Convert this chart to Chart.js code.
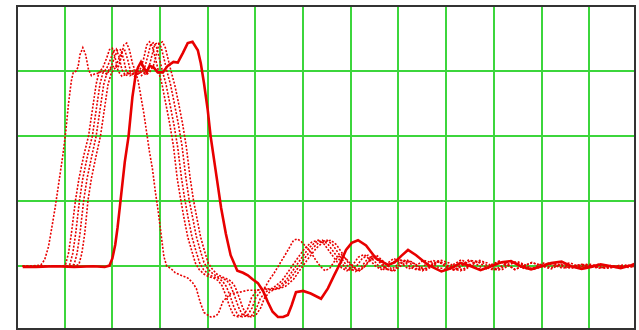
<!DOCTYPE html>
<html>
<head>
<meta charset="utf-8">
<script src="https://cdn.jsdelivr.net/npm/chart.js@4/dist/chart.umd.min.js"></script>
<style>
html,body{margin:0;padding:0;background:#fff;}
#wrap{width:639px;height:330px;}
</style>
</head>
<body>
<div id="wrap"><canvas id="c" width="639" height="330"></canvas></div>
<script>
// Time axis (ns, 50 per division) and voltage axis (V, 1 per division)
const xGridTicks = [50,100,150,200,250,300,350,400,450,500,550,600];
const yGridTicks = [1,2,3,4];

// Earliest dotted trace
const traceA = [[6,1.0],[14,1.0],[20,1.01],[25,1.02],[29,1.1],[33,1.3],[36,1.55],[40,1.9],[44,2.3],[48,2.7],[51,3.05],[54,3.5],[57,3.85],[59,3.98],[62,4.0],[64,4.06],[66,4.25],[69,4.36],[72,4.25],[75,4.02],[78,3.93],[82,3.96],[86,3.97],[90,4.01],[94,3.95],[98,4.03],[102,4.08],[106,4.05],[109,4.2],[112,4.4],[115,4.43],[118,4.32],[121,4.12],[124,4.0],[127,3.85],[130,3.6],[133,3.35],[136,3.05],[139,2.75],[142,2.5],[145,2.15],[148,1.85],[151,1.5],[154,1.15],[157,1.0],[161,0.97],[166,0.9],[172,0.86],[179,0.82],[184,0.75],[188,0.66],[192,0.45],[196,0.29],[203,0.22],[208,0.23],[211,0.27],[216,0.46],[224,0.58],[233,0.6],[242,0.63],[250,0.63],[259,0.65],[265,0.8],[269,0.88],[276,1.05],[283,1.22],[290,1.4],[294,1.42],[298,1.38],[303,1.3],[308,1.22],[313,1.1],[318,1.0],[323,0.93],[328,0.97],[334,1.1],[340,1.18],[346,1.1],[352,1.0],[358,0.92],[364,0.99],[370,1.1],[376,1.15],[382,1.06],[388,0.96],[395,0.92],[402,1.0],[410,1.08],[418,1.03],[426,0.95],[434,1.01],[442,1.08],[450,1.0],[458,0.94],[466,1.02],[474,1.1],[482,1.03],[490,0.95],[498,1.0],[506,1.08],[514,1.03],[522,0.95],[530,1.0],[540,1.06],[550,1.0],[560,0.96],[570,1.03],[580,1.05],[590,0.99],[600,1.0],[610,1.02],[620,0.99],[630,1.0],[640,1.01],[648,1.03]];

const traceB = [[6,1.0],[30,1.0],[48,1.0],[51,1.03],[54,1.2],[57,1.5],[61.4,2.02],[65,2.35],[70,2.7],[75,3.0],[79,3.4],[83,3.8],[86,3.98],[90,4.05],[94,4.2],[97,4.33],[100,4.35],[103,4.2],[106,4.0],[110,3.92],[114,3.95],[118,4.0],[122,3.94],[126,3.97],[130,4.05],[133,4.2],[136,4.4],[139,4.45],[142,4.38],[145,4.2],[148,4.02],[152,3.8],[156,3.5],[160,3.2],[164,2.85],[168,2.35],[171.7,2.02],[175,1.75],[179,1.45],[183,1.25],[187,1.05],[191,0.95],[196,0.88],[201,0.84],[206,0.82],[211,0.78],[215,0.7],[219,0.55],[223,0.38],[227,0.25],[232,0.22],[237,0.24],[242,0.35],[246,0.52],[251,0.62],[256,0.66],[262,0.65],[268,0.66],[278,0.78],[286,0.95],[294,1.12],[302,1.28],[309,1.37],[316,1.4],[322,1.34],[328,1.22],[334,1.1],[340,0.98],[346,0.93],[352,1.02],[358,1.14],[364,1.18],[370,1.1],[376,1.0],[382,0.95],[388,1.04],[395,1.12],[402,1.06],[410,0.96],[418,1.0],[426,1.09],[434,1.06],[442,0.98],[450,0.95],[458,1.03],[466,1.1],[474,1.03],[482,0.97],[490,0.95],[498,1.03],[506,1.08],[514,1.02],[522,0.95],[530,1.0],[540,1.05],[550,1.02],[560,0.98],[570,1.02],[580,1.0],[590,0.97],[600,1.0],[610,1.03],[620,1.0],[630,0.98],[640,1.0],[648,1.02]];

const traceC = [[6,1.0],[30,1.0],[52,1.0],[55.5,1.03],[58.5,1.2],[61.5,1.5],[65.6,2.02],[69,2.35],[74,2.7],[79,3.0],[83,3.4],[87,3.8],[90,3.97],[94,4.04],[98,4.18],[101,4.3],[104,4.34],[107,4.22],[110,4.02],[114,3.93],[118,3.96],[122,4.01],[126,3.95],[130,3.98],[134,4.06],[137,4.22],[140,4.4],[143.5,4.44],[146.5,4.36],[149.5,4.18],[152.5,4.0],[156.5,3.78],[160.5,3.48],[164.5,3.18],[168.5,2.83],[172.5,2.35],[176,2.02],[179.5,1.74],[183.5,1.45],[187.5,1.24],[191.5,1.05],[195.5,0.95],[200.5,0.88],[205.5,0.84],[210.5,0.82],[215.5,0.77],[219.5,0.69],[223.5,0.54],[227.5,0.37],[231.5,0.25],[236.5,0.22],[241.5,0.24],[246.5,0.36],[250.5,0.52],[255.5,0.61],[260.5,0.65],[266.5,0.64],[272.5,0.67],[282,0.78],[290,0.95],[298,1.12],[306,1.28],[313,1.37],[320,1.4],[326,1.34],[332,1.22],[338,1.1],[344,0.98],[350,0.93],[356,1.0],[362,1.12],[368,1.17],[374,1.09],[380,0.99],[386,0.94],[392,1.03],[399,1.11],[406,1.07],[413,0.98],[420,0.94],[428,1.02],[436,1.09],[444,1.05],[452,0.97],[460,0.94],[468,1.02],[476,1.09],[484,1.06],[492,0.98],[500,0.94],[508,1.0],[516,1.08],[524,1.04],[532,0.96],[542,0.98],[552,1.05],[562,1.02],[572,0.97],[582,1.0],[592,1.03],[602,0.99],[612,0.97],[622,1.01],[632,1.0],[642,0.98],[648,1.0]];

const traceD = [[6,1.0],[30,1.0],[56,1.0],[60,1.03],[63,1.2],[66,1.5],[70,2.02],[73.5,2.35],[78.5,2.7],[83,3.0],[87,3.4],[91,3.8],[94.5,3.98],[98.5,4.06],[102.5,4.22],[105.5,4.32],[108.5,4.33],[111.5,4.2],[114.5,4.0],[118.5,3.93],[122.5,3.97],[126.5,4.0],[130.5,3.93],[134.5,3.99],[138.5,4.07],[141.5,4.24],[144.5,4.41],[148,4.44],[151,4.37],[154,4.2],[157,4.01],[161,3.79],[165,3.5],[169,3.2],[173,2.85],[177,2.37],[180.5,2.02],[184,1.76],[188,1.46],[192,1.25],[196,1.06],[200,0.96],[205,0.89],[210,0.84],[215,0.82],[220,0.78],[224,0.7],[228,0.55],[232,0.38],[236,0.26],[241,0.22],[246,0.24],[251,0.35],[255,0.5],[260,0.6],[265,0.64],[271,0.65],[277,0.68],[286,0.8],[294,0.96],[302,1.13],[310,1.28],[317,1.37],[325,1.4],[331,1.33],[337,1.2],[343,1.06],[349,0.97],[355,0.92],[361,0.99],[367,1.1],[373,1.16],[379,1.08],[385,0.98],[391,0.93],[397,1.0],[404,1.1],[411,1.06],[418,0.97],[425,0.93],[433,1.0],[441,1.08],[449,1.04],[457,0.96],[465,0.93],[473,1.0],[481,1.08],[489,1.05],[497,0.97],[505,0.94],[513,1.02],[521,1.07],[529,1.03],[537,0.96],[547,0.98],[557,1.05],[567,1.02],[577,0.97],[587,1.01],[597,1.03],[607,0.99],[617,0.97],[627,1.0],[637,1.02],[648,0.99]];

const traceE = [[6,1.0],[30,1.0],[61,1.0],[65,1.03],[68,1.2],[71,1.5],[74.5,2.02],[78,2.35],[83,2.7],[87.5,3.0],[91.5,3.4],[95.5,3.8],[99,3.97],[103,4.05],[107,4.2],[110,4.3],[113,4.32],[116,4.18],[119,4.0],[123,3.92],[127,3.96],[131,4.02],[135,3.94],[139,3.98],[143,4.08],[146,4.25],[149,4.42],[152.5,4.45],[155.5,4.36],[158.5,4.18],[161.5,4.0],[165.5,3.78],[169.5,3.5],[173.5,3.2],[177.5,2.84],[181.5,2.36],[185,2.02],[188.5,1.75],[192.5,1.45],[196.5,1.24],[200.5,1.05],[204.5,0.96],[209.5,0.88],[214.5,0.84],[219.5,0.81],[224.5,0.77],[228.5,0.69],[232.5,0.54],[236.5,0.37],[240.5,0.25],[245.5,0.22],[250.5,0.25],[255.5,0.36],[259.5,0.51],[264.5,0.6],[269.5,0.64],[275.5,0.66],[281.5,0.69],[290,0.8],[298,0.97],[306,1.13],[314,1.28],[321,1.37],[329,1.4],[335,1.33],[341,1.2],[347,1.06],[353,0.97],[359,0.93],[365,1.0],[371,1.11],[377,1.17],[383,1.09],[389,1.0],[395,0.94],[401,1.02],[408,1.1],[415,1.06],[422,0.97],[429,0.94],[437,1.02],[445,1.09],[453,1.05],[461,0.97],[469,0.94],[477,1.02],[485,1.09],[493,1.05],[501,0.97],[509,0.95],[517,1.03],[525,1.07],[533,1.02],[541,0.95],[551,1.0],[561,1.05],[571,1.02],[581,0.97],[591,1.0],[601,1.03],[611,0.99],[621,0.97],[631,1.01],[641,1.0],[648,1.02]];

// Latest (solid) trace
const traceS = [[6,0.99],[20,0.99],[40,1.0],[60,0.99],[80,1.0],[92,0.99],[97,1.01],[100,1.12],[103,1.33],[105.5,1.6],[108.5,2.0],[113,2.6],[117,3.0],[121,3.6],[124.5,3.95],[127,4.06],[130,4.14],[133,4.05],[136,3.98],[139,4.08],[143,4.06],[147.6,3.98],[153,3.98],[158,4.08],[164,4.14],[168.6,4.13],[174,4.28],[179,4.43],[184,4.45],[189.6,4.32],[192.7,4.12],[196,3.82],[200,3.4],[203,3.0],[207,2.6],[211,2.2],[214,1.9],[219,1.5],[224,1.17],[231,0.93],[237,0.9],[242,0.86],[247,0.8],[252.6,0.74],[258,0.62],[263,0.45],[268,0.3],[273.6,0.22],[279,0.22],[284,0.25],[288,0.4],[292.5,0.6],[300,0.62],[308,0.58],[318.8,0.5],[326,0.66],[332.5,0.86],[339,1.05],[345,1.25],[351,1.36],[357.6,1.4],[366,1.32],[376.5,1.12],[389,1.02],[396,1.06],[403,1.16],[410,1.25],[418.5,1.17],[431,1.02],[445,0.92],[455,0.97],[465,1.05],[476,1.0],[486,0.94],[497,1.0],[508,1.06],[518,1.08],[528,1.0],[539,0.95],[550,1.0],[560,1.05],[571,1.07],[581,1.0],[592,0.96],[602,0.99],[612,1.03],[623,1.0],[633,0.97],[643,1.01],[648,1.04]];

const RED = 'rgb(232,0,0)';
const GREEN = 'rgb(60,214,60)';

function toXY(arr){ return arr.map(p => ({x:p[0], y:p[1]})); }
function dotted(arr){
  return {data: toXY(arr), borderColor: RED, borderWidth: 1.6, borderDash:[2,1.6],
          pointRadius:0, tension:0, fill:false};
}

const framePlugin = {
  id:'frame',
  afterDraw(chart){
    const a = chart.chartArea, ctx = chart.ctx;
    ctx.save();
    ctx.strokeStyle = '#333';
    ctx.lineWidth = 2;
    ctx.strokeRect(a.left, a.top, a.right - a.left, a.bottom - a.top - 1);
    ctx.restore();
  }
};

new Chart(document.getElementById('c'), {
  type:'line',
  data:{
    datasets:[
      dotted(traceA), dotted(traceB), dotted(traceC), dotted(traceD), dotted(traceE),
      {data: toXY(traceS), borderColor: RED, borderWidth: 2.6, pointRadius:0, tension:0, fill:false}
    ]
  },
  options:{
    responsive:false,
    animation:false,
    layout:{padding:{left:17, right:4, top:6, bottom:0}},
    plugins:{legend:{display:false}, tooltip:{enabled:false}},
    scales:{
      x:{type:'linear', min:0, max:648,
         ticks:{display:false},
         afterBuildTicks(s){ s.ticks = xGridTicks.map(v=>({value:v})); },
         grid:{color:GREEN, lineWidth:2, drawTicks:false},
         border:{display:false}},
      y:{type:'linear', min:0.02, max:5,
         ticks:{display:false},
         afterBuildTicks(s){ s.ticks = yGridTicks.map(v=>({value:v})); },
         grid:{color:GREEN, lineWidth:2, drawTicks:false},
         border:{display:false}}
    }
  },
  plugins:[framePlugin]
});
</script>
</body>
</html>
